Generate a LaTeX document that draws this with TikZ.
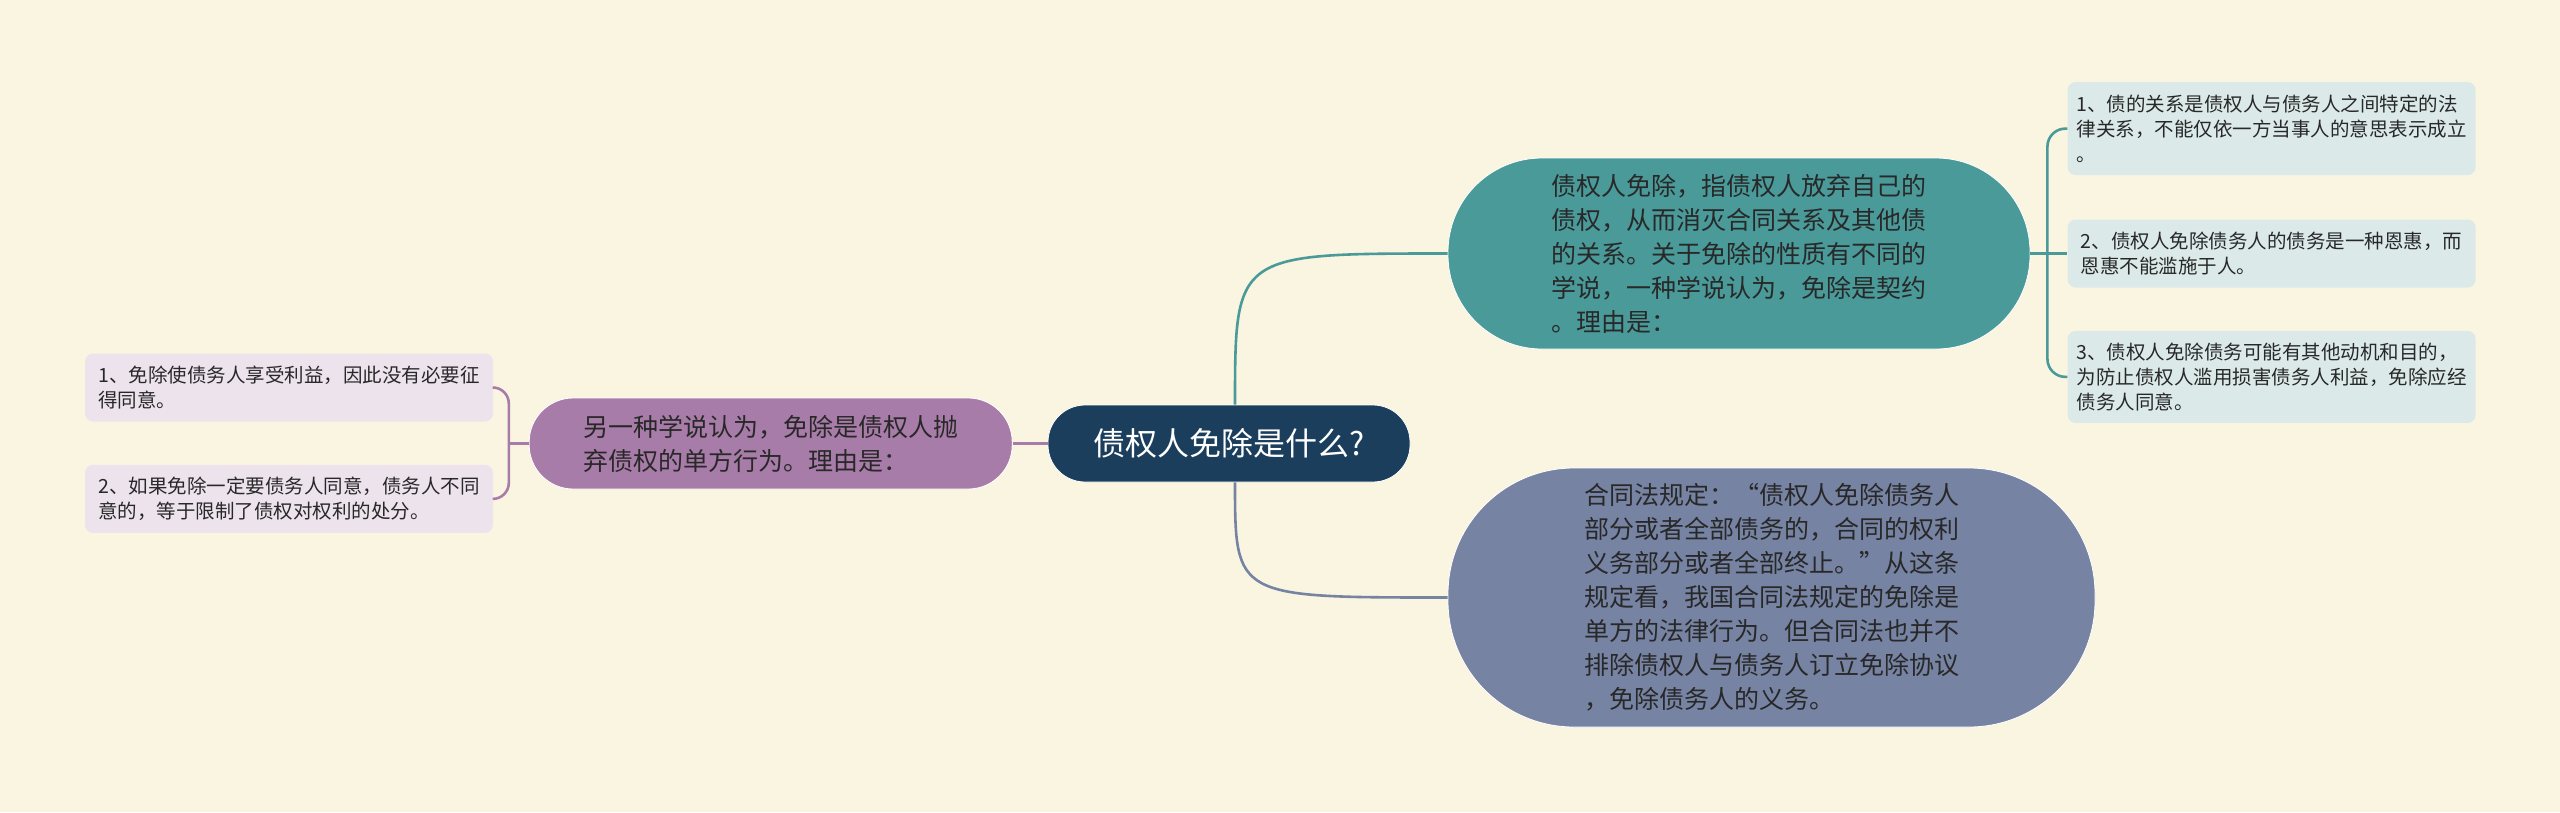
\documentclass[tikz,border=0pt]{standalone}
\usepackage{fontspec}
\usepackage{tikz}
\usetikzlibrary{positioning,calc}
\newfontfamily\cjk{Noto Sans CJK SC}
\definecolor{paper}{RGB}{250,245,225}
\definecolor{rootbg}{RGB}{26,62,92}
\definecolor{tealbg}{RGB}{74,154,154}
\definecolor{slatebg}{RGB}{118,131,163}
\definecolor{plumbg}{RGB}{168,124,168}
\definecolor{rleafbg}{RGB}{219,234,233}
\definecolor{lleafbg}{RGB}{237,227,237}
\definecolor{ink}{RGB}{40,40,40}

\begin{document}
\begin{tikzpicture}[x=1pt,y=-1pt,font=\cjk,
  root/.style={fill=rootbg,draw=white,line width=0.8pt,rounded corners=37pt,minimum width=362pt,minimum height=77pt,inner sep=0pt,text=white,font=\cjk\fontsize{32pt}{38pt}\selectfont},
  branch/.style={draw=white,line width=0.8pt,inner sep=0pt,align=left,text=ink,font=\cjk\fontsize{25pt}{34pt}\selectfont},
  tbox/.style={branch,fill=tealbg,rounded corners=94pt,minimum width=582pt,minimum height=191pt},
  sbox/.style={branch,fill=slatebg,rounded corners=126pt,minimum width=647pt,minimum height=259pt},
  pbox/.style={branch,fill=plumbg,rounded corners=44pt,minimum width=483pt,minimum height=91pt},
  leaf/.style={rounded corners=8pt,minimum width=408pt,minimum height=68pt,inner sep=0pt,align=left,text=ink,font=\cjk\fontsize{19.5pt}{25pt}\selectfont},
  rleaf/.style={leaf,fill=rleafbg},
  lleaf/.style={leaf,fill=lleafbg},
  tline/.style={draw=tealbg,line width=2.6pt},
  sline/.style={draw=slatebg,line width=2.6pt},
  pline/.style={draw=plumbg,line width=2.6pt}]
\fill[paper] (0,0) rectangle (2560,812);
\useasboundingbox (0,0) rectangle (2560,812);
\node[root] (main) at (1229,443.5) {债权人免除是什么?};
\node[tbox] (teal) at (1739,253.5) {债权人免除，指债权人放弃自己的\\债权，从而消灭合同关系及其他债\\的关系。关于免除的性质有不同的\\学说，一种学说认为，免除是契约\\。理由是：};
\node[sbox] (law) at (1771.5,597.5) {合同法规定：“债权人免除债务人\\部分或者全部债务的，合同的权利\\义务部分或者全部终止。”从这条\\规定看，我国合同法规定的免除是\\单方的法律行为。但合同法也并不\\排除债权人与债务人订立免除协议\\，免除债务人的义务。};
\node[pbox,left=35pt of main] (other) {另一种学说认为，免除是债权人抛\\弃债权的单方行为。理由是：};
\node[rleaf,right=37pt of teal] (r2) {2、债权人免除债务人的债务是一种恩惠，而\\恩惠不能滥施于人。};
\node[rleaf,minimum height=93pt,above=44pt of r2] (r1) {1、债的关系是债权人与债务人之间特定的法\\律关系，不能仅依一方当事人的意思表示成立\\。};
\node[rleaf,minimum height=92pt,below=43pt of r2] (r3) {3、债权人免除债务可能有其他动机和目的，\\为防止债权人滥用损害债务人利益，免除应经\\债务人同意。};
\node[lleaf] (l1) at (289,387.5) {1、免除使债务人享受利益，因此没有必要征\\得同意。};
\node[lleaf,below=43pt of l1] (l2) {2、如果免除一定要债务人同意，债务人不同\\意的，等于限制了债权对权利的处分。};
\coordinate (tstart) at ([xshift=6pt]main.north);
\coordinate (sstart) at ([xshift=6pt]main.south);
\coordinate (rfork) at ($(teal.east)+(17,0)$);
\coordinate (lfork) at ($(other.west)+(-20,0)$);
\draw[tline] (tstart) .. controls (tstart |- teal.west) .. (teal.west);
\draw[sline] (sstart) .. controls (sstart |- law.west) .. (law.west);
\draw[pline] (main.west) -- (other.east);
\draw[tline] (teal.east) -- (r2.west);
\draw[tline,rounded corners=18pt] (r1.west) -| (rfork) |- (r3.west);
\draw[pline] (other.west) -- (lfork);
\draw[pline,rounded corners=16pt] (l1.east) -| (lfork) |- (l2.east);
\end{tikzpicture}
\end{document}
